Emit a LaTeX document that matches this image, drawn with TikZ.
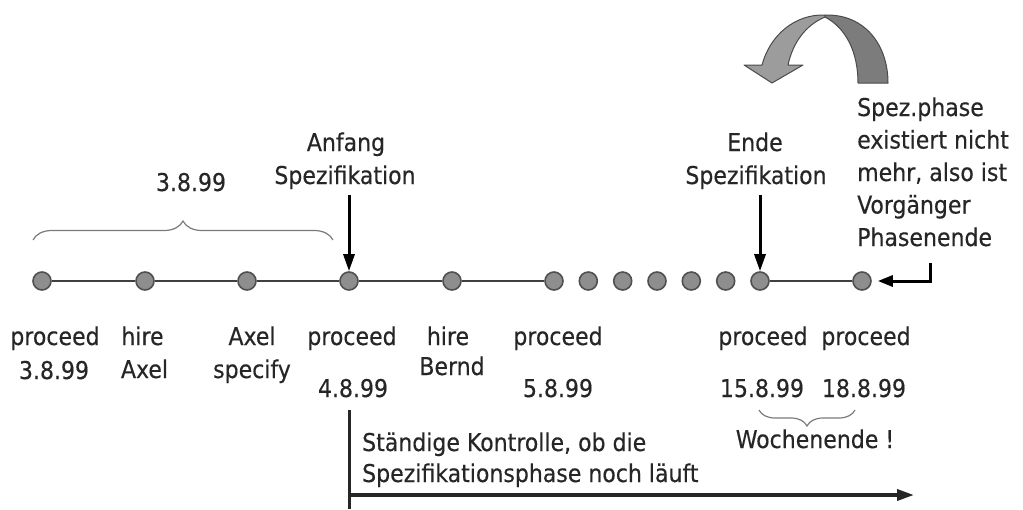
\documentclass[tikz,border=0pt]{standalone}
\usepackage{fontspec}
\setmainfont{DejaVu Sans Condensed}[FakeBold=0.35]
\usetikzlibrary{arrows.meta,decorations.pathreplacing}
\definecolor{ink}{HTML}{262626}
\definecolor{axis}{HTML}{404040}
\definecolor{dotfill}{HTML}{8E8E8E}
\definecolor{dotline}{HTML}{505050}
\definecolor{bracecol}{HTML}{7A7A7A}
\definecolor{bendlight}{HTML}{9C9C9C}
\definecolor{benddark}{HTML}{7C7C7C}
\definecolor{bendline}{HTML}{4A4A4A}
\tikzset{
  lbl/.style={anchor=base, inner sep=0pt, text=ink, font=\fontsize{24.5}{32}\selectfont},
  lblw/.style={lbl, anchor=base west},
  evt/.style={circle, minimum size=18pt, inner sep=0pt, fill=dotfill, draw=dotline, line width=1.6pt},
  axisline/.style={draw=axis, line width=2.7pt},
  marker/.style={line width=3pt, -{Triangle[length=17pt,width=11pt]}},
  grouping/.style={draw=bracecol, line width=1.2pt, decorate}
}
\begin{document}
\begin{tikzpicture}[x=1pt,y=-1pt]
\useasboundingbox (0,0) rectangle (1023,509);

% events on the time line
\foreach \n/\x in {1/42,2/145,3/247,4/349,5/452,6/554,7/588.3,8/622.7,9/657,10/691.3,11/725.7,12/760,13/862}
  \node[evt] (d\n) at (\x,281) {};
\draw[axisline] (d1) -- (d2) -- (d3) -- (d4) -- (d5) -- (d6);
\draw[axisline] (d12) -- (d13);

% labels under the events
\node[lbl] (p1) at (55,345) {proceed};
\node[lbl] (p1d) at (54,379) {3.8.99};
\node[lbl] (h1) at (142.5,345) {hire};
\node[lbl] (h1n) at (144.5,378) {Axel};
\node[lbl] (a1) at (252,345) {Axel};
\node[lbl] (a1v) at (252,378) {specify};
\node[lbl] (p4) at (352,345) {proceed};
\node[lbl] (p4d) at (353,397) {4.8.99};
\node[lbl] (h2) at (448,345) {hire};
\node[lbl] (h2n) at (452,375) {Bernd};
\node[lbl] (p6) at (558,345) {proceed};
\node[lbl] (p6d) at (558,397) {5.8.99};
\node[lbl] (p12) at (763,345) {proceed};
\node[lbl] (p12d) at (762,397) {15.8.99};
\node[lbl] (p13) at (866,345) {proceed};
\node[lbl] (p13d) at (864,397) {18.8.99};

% first day
\coordinate (bl) at (33,240);
\coordinate (br) at (333,240);
\draw[grouping, decoration={brace, amplitude=19pt}] (bl) -- (br);
\node[lbl] (day1) at (191,191) {3.8.99};

% start and end of the specification phase
\node[lbl] (anf1) at (346,151) {Anfang};
\node[lbl] (anf2) at (345,184) {Spezifikation};
\coordinate (anfTop) at (349,195);
\draw[marker] (anfTop) -- (d4.north) ;
\node[lbl] (end1) at (755,151) {Ende};
\node[lbl] (end2) at (756,184) {Spezifikation};
\coordinate (endTop) at (760,195);
\draw[marker] (endTop) -- (d12.north);

% note on the right
\node[lblw] (n1) at (857,116) {Spez.phase};
\node[lblw] (n2) at (857,148.5) {existiert nicht};
\node[lblw] (n3) at (857,181) {mehr, also ist};
\node[lblw] (n4) at (857,213.5) {Vorgänger};
\node[lblw] (n5) at (857,246) {Phasenende};
\coordinate (noteFoot) at (930,263);
\coordinate (noteBend) at (930,281);
\draw[marker, line width=3pt, -{Triangle[length=15pt,width=11pt]}] (noteFoot) -- (noteBend) -- ([xshift=6pt]d13.east);

% bent arrow above the note
\path[fill=benddark, draw=bendline, line width=1pt, line join=round]
  (825,15) .. controls (865,14) and (888,45) .. (888,83)
  -- (858,83) .. controls (858,52) and (846,28) .. (825,17) -- cycle;
\path[fill=bendlight, draw=bendline, line width=1pt, line join=round]
  (825,15) .. controls (795,14) and (770,35) .. (762,65)
  -- (744,65) -- (772,83) -- (803,65) -- (788,65)
  .. controls (793,42) and (806,25) .. (825,17) -- cycle;

% weekend
\coordinate (wl) at (759,410);
\coordinate (wr) at (855,410);
\draw[grouping, decoration={brace, amplitude=16pt, mirror}] (wl) -- (wr);
\node[lbl] (we) at (815,448) {Wochenende !};

% continuous check of the running phase
\coordinate (ckTop) at (349,410);
\coordinate (ckBot) at (349,509);
\coordinate (ckStart) at (349,495);
\coordinate (ckEnd) at (914,495);
\draw[ink, line width=3pt] (ckTop) -- (ckBot);
\draw[ink, line width=3.5pt, -{Triangle[length=17pt,width=11pt]}] (ckStart) -- (ckEnd);
\node[lblw] (ck1) at (362,451) {Ständige Kontrolle, ob die};
\node[lblw] (ck2) at (362,482) {Spezifikationsphase noch läuft};
\end{tikzpicture}
\end{document}
